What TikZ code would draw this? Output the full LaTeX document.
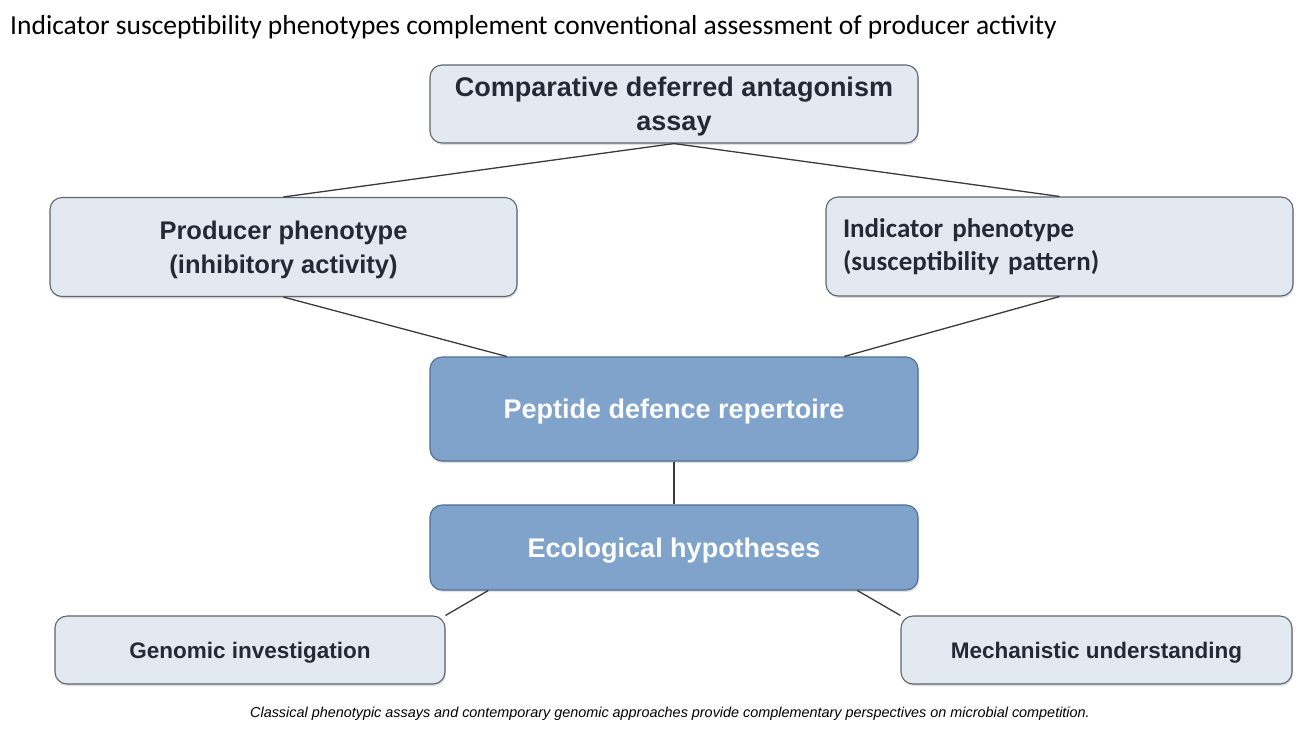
\documentclass[tikz,border=0pt]{standalone}
\usepackage{fontspec}
\setmainfont{Liberation Sans}
\newfontfamily\calfont{Carlito}
\usepackage{xcolor}
\usetikzlibrary{calc,shadows}
\definecolor{boxfill}{HTML}{E3E9F0}
\definecolor{boxline}{HTML}{5B6670}
\definecolor{darkfill}{HTML}{7FA3CB}
\definecolor{darkline}{HTML}{4F6E94}
\definecolor{textdark}{HTML}{222B35}
\definecolor{edgegray}{HTML}{3A3A3A}
\begin{document}
\begin{tikzpicture}[-, x=1pt, y=-1pt, light node/.style={rectangle, rounded corners=12pt, draw=boxline, line width=1.1pt, fill=boxfill, text=textdark, font=\bfseries, inner sep=0pt, text depth=0pt, drop shadow={shadow xshift=1pt, shadow yshift=-2pt, opacity=0.25}}, dark node/.style={light node, fill=darkfill, draw=darkline, text=white}, link/.style={draw=edgegray, line width=1.3pt}]
\useasboundingbox (0,0) rectangle (1310,732);
\node[anchor=base west, inner sep=0pt, font=\calfont\fontsize{27.5}{32}\selectfont] (title) at (10,34) {Indicator susceptibility phenotypes complement conventional assessment of producer activity};
\node[light node, minimum width=488pt, minimum height=78pt, align=center, font=\bfseries\fontsize{27}{34}\selectfont] (assay) at (674,104) {Comparative deferred antagonism\\assay};
\node[light node, minimum width=467pt, minimum height=99pt, align=center, font=\bfseries\fontsize{25.5}{34}\selectfont] (prod) at (283.5,247) {Producer phenotype\\(inhibitory activity)};
\node[light node, text depth=, minimum width=467pt, minimum height=99pt, text width=433pt, align=left, font=\calfont\bfseries\fontsize{27}{33}\selectfont] (ind) at (1059.5,246.5) {Indicator phenotype\\(susceptibility pattern)};
\node[dark node, minimum width=488pt, minimum height=104pt, font=\bfseries\fontsize{27}{32}\selectfont] (rep) at (674,409) {Peptide defence repertoire};
\node[dark node, minimum width=488pt, minimum height=85pt, font=\bfseries\fontsize{27}{32}\selectfont] (eco) at (674,547.5) {Ecological hypotheses};
\node[light node, minimum width=390pt, minimum height=68pt, font=\bfseries\fontsize{22.5}{28}\selectfont] (gen) at (250,650) {Genomic investigation};
\node[light node, minimum width=391pt, minimum height=68pt, font=\bfseries\fontsize{22.5}{28}\selectfont] (mech) at (1096.5,650) {Mechanistic understanding};
\node[anchor=base, inner sep=0pt, font=\itshape\fontsize{14.4}{17}\selectfont] (caption) at (670,717) {Classical phenotypic assays and contemporary genomic approaches provide complementary perspectives on microbial competition.};
\path[link]
(assay.south) edge (prod.north)
(assay.south) edge (ind.north)
(prod.south) edge ($(rep.north west)!0.158!(rep.north east)$)
(ind.south) edge ($(rep.north west)!0.848!(rep.north east)$)
(rep.south) edge (eco.north)
($(eco.south west)!0.12!(eco.south east)$) edge (gen.north east)
($(eco.south west)!0.875!(eco.south east)$) edge (mech.north west);
\end{tikzpicture}
\end{document}
